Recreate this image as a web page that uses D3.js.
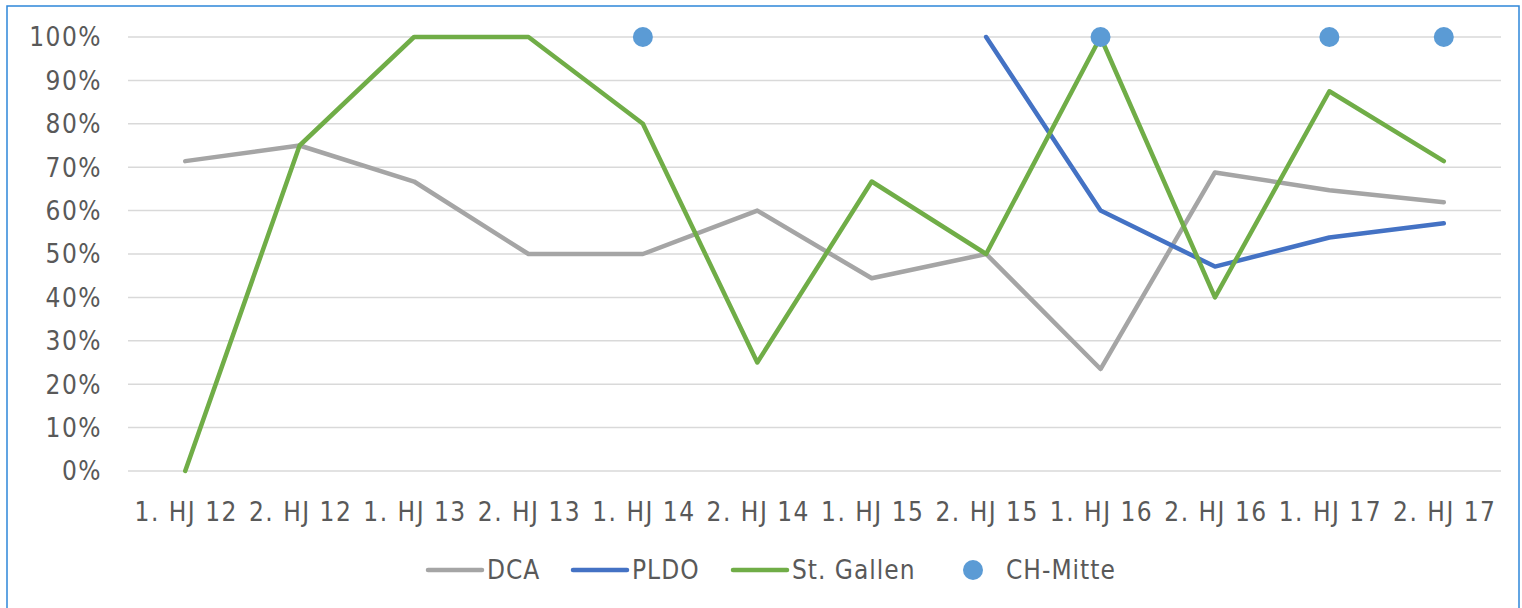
<!DOCTYPE html>
<html>
<head>
<meta charset="utf-8">
<script src="https://cdn.jsdelivr.net/npm/d3@7"></script>
<style>
body { margin: 0; background: #fff; }
svg text { font-family: "DejaVu Sans Condensed", "DejaVu Sans", sans-serif; fill: #595959; }
</style>
</head>
<body>
<svg width="1522" height="608"></svg>
<script>
var categories = ['1. HJ 12', '2. HJ 12', '1. HJ 13', '2. HJ 13', '1. HJ 14', '2. HJ 14',
                  '1. HJ 15', '2. HJ 15', '1. HJ 16', '2. HJ 16', '1. HJ 17', '2. HJ 17'];
var dca = [71.4, 75, 66.7, 50, 50, 60, 44.4, 50, 23.5, 68.8, 64.7, 61.9];
var pldo = [null, null, null, null, null, null, null, 100, 60, 47.1, 53.8, 57.1];
var stGallen = [0, 75, 100, 100, 80, 25, 66.7, 50, 100, 40, 87.5, 71.4];
var chMitte = [null, null, null, null, 100, null, null, null, 100, null, 100, 100];
var yTicks = [0, 10, 20, 30, 40, 50, 60, 70, 80, 90, 100];

var svg = d3.select('svg');

// chart frame
svg.append('rect').attr('x', 7).attr('y', 6).attr('width', 1512).attr('height', 640)
  .attr('fill', 'none').attr('stroke', '#2E86D9').attr('stroke-width', 1.5);

var x = d3.scaleBand().domain(categories).range([128, 1501]);
var y = d3.scaleLinear().domain([0, 100]).range([471, 37]);
var cx = function(i) { return x(categories[i]) + x.bandwidth() / 2; };

// gridlines
svg.append('g').selectAll('line').data(yTicks).join('line')
  .attr('x1', 128).attr('x2', 1501)
  .attr('y1', function(d) { return y(d); }).attr('y2', function(d) { return y(d); })
  .attr('stroke', '#D9D9D9').attr('stroke-width', 1.5);

// y labels
svg.append('g').selectAll('text').data(yTicks).join('text')
  .attr('x', 102).attr('y', function(d) { return y(d); })
  .attr('dy', '0.36em').attr('text-anchor', 'end').attr('letter-spacing', 1.5)
  .attr('font-size', 26).text(function(d) { return d + '%'; });

// x labels
svg.append('g').selectAll('text').data(categories).join('text')
  .attr('x', function(d, i) { return cx(i) + 1; }).attr('y', 521)
  .attr('text-anchor', 'middle').attr('letter-spacing', 1.5)
  .attr('font-size', 26).text(function(d) { return d; });

var line = d3.line()
  .defined(function(d) { return d != null; })
  .x(function(d, i) { return cx(i); })
  .y(function(d) { return y(d); });

var series = [
  { name: 'DCA', values: dca, color: '#A5A5A5' },
  { name: 'PLDO', values: pldo, color: '#4472C4' },
  { name: 'St. Gallen', values: stGallen, color: '#70AD47' }
];

series.forEach(function(s) {
  svg.append('path').datum(s.values).attr('d', line)
    .attr('fill', 'none').attr('stroke', s.color).attr('stroke-width', 4.5)
    .attr('stroke-linejoin', 'round').attr('stroke-linecap', 'round');
});

svg.append('g').selectAll('circle')
  .data(chMitte.map(function(v, i) { return { v: v, i: i }; }).filter(function(d) { return d.v != null; }))
  .join('circle')
  .attr('cx', function(d) { return cx(d.i); }).attr('cy', function(d) { return y(d.v); })
  .attr('r', 10).attr('fill', '#5B9BD5');

// legend
var legX = [428, 573, 733];
series.forEach(function(s, i) {
  svg.append('line').attr('x1', legX[i]).attr('x2', legX[i] + 54).attr('y1', 570).attr('y2', 570)
    .attr('stroke', s.color).attr('stroke-width', 4.5).attr('stroke-linecap', 'round');
  svg.append('text').attr('x', legX[i] + 59).attr('y', 570).attr('dy', '0.36em')
    .attr('letter-spacing', 1).attr('font-size', 26).text(s.name);
});
svg.append('circle').attr('cx', 973).attr('cy', 570).attr('r', 10).attr('fill', '#5B9BD5');
svg.append('text').attr('x', 1006).attr('y', 570).attr('dy', '0.36em')
  .attr('letter-spacing', 1).attr('font-size', 26).text('CH-Mitte');
</script>
</body>
</html>
